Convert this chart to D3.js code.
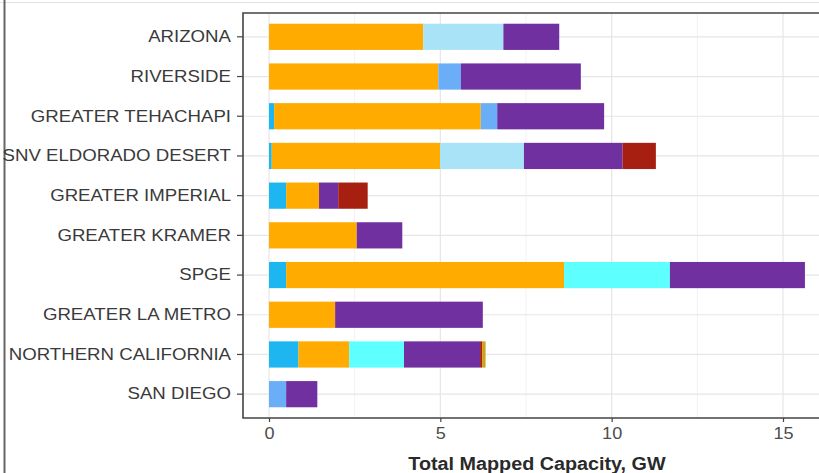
<!DOCTYPE html>
<html>
<head>
<meta charset="utf-8">
<script src="https://cdn.jsdelivr.net/npm/d3@7"></script>
<style>
html,body{margin:0;padding:0;background:#fff;}
svg{display:block;font-family:"Liberation Sans",Arial,sans-serif;}
</style>
</head>
<body>
<svg id="chart" width="819" height="473"></svg>
<script>
// Categories (top to bottom)
const categories = ["ARIZONA","RIVERSIDE","GREATER TEHACHAPI","SNV ELDORADO DESERT","GREATER IMPERIAL","GREATER KRAMER","SPGE","GREATER LA METRO","NORTHERN CALIFORNIA","SAN DIEGO"];
// Series in stacking order (left to right)
const seriesNames = ["Type A","Type B","Type C","Type D","Type E","Type F","Type G","Type H"];
const seriesColors = ["#1db6f0","#ffab00","#a8e3f8","#6aaef8","#5effff","#7030a0","#a61f10","#c9a41a"];
// Values (GW) per series, aligned with categories
const typeA = [0,    0,    0.15, 0.08, 0.50, 0,    0.50, 0,    0.86, 0   ];
const typeB = [4.50, 4.94, 6.03, 4.91, 0.96, 2.56, 8.11, 1.93, 1.48, 0   ];
const typeC = [2.34, 0,    0,    2.45, 0,    0,    0,    0,    0,    0   ];
const typeD = [0,    0.66, 0.48, 0,    0,    0,    0,    0,    0,    0.50];
const typeE = [0,    0,    0,    0,    0,    0,    3.09, 0,    1.60, 0   ];
const typeF = [1.63, 3.50, 3.12, 2.88, 0.56, 1.33, 3.94, 4.31, 2.22, 0.91];
const typeG = [0,    0,    0,    0.97, 0.86, 0,    0,    0,    0.06, 0   ];
const typeH = [0,    0,    0,    0,    0,    0,    0,    0,    0.10, 0   ];
const xTicks = [0, 5, 10, 15];
const xMinor = [2.5, 7.5, 12.5];
const xTitle = "Total Mapped Capacity, GW";

const seriesValues = [typeA,typeB,typeC,typeD,typeE,typeF,typeG,typeH];
const rows = categories.map((c,i)=>{
  const o = {cat:c};
  seriesNames.forEach((s,j)=>{ o[s] = seriesValues[j][i]; });
  return o;
});
const stack = d3.stack().keys(seriesNames)(rows);

const svg = d3.select("#chart");
const panel = {top:13, bottom:418, left:243};
const x = d3.scaleLinear().domain([0,15]).range([269,783]);
const xMaxDom = x.invert(832);
const y = d3.scaleBand().domain(categories).range([panel.top, panel.bottom]).paddingInner(0.34).paddingOuter(0.27);
const SX = 1.13; // horizontal stretch of the text in the reference

// frame decorations
svg.append("line").attr("x1",0).attr("x2",819).attr("y1",2.5).attr("y2",2.5).attr("stroke","#e2e2e2").attr("stroke-width",1);
svg.append("line").attr("x1",4.5).attr("x2",4.5).attr("y1",0).attr("y2",473).attr("stroke","#666").attr("stroke-width",2);

const g = svg.append("g");
// grid
g.selectAll("line.minor").data(xMinor).join("line")
  .attr("x1",d=>x(d)).attr("x2",d=>x(d)).attr("y1",panel.top).attr("y2",panel.bottom)
  .attr("stroke","#f2f2f2").attr("stroke-width",1);
g.selectAll("line.major").data(xTicks).join("line")
  .attr("x1",d=>x(d)).attr("x2",d=>x(d)).attr("y1",panel.top).attr("y2",panel.bottom)
  .attr("stroke","#e6e6e6").attr("stroke-width",1.2);
g.selectAll("line.hgrid").data(categories).join("line")
  .attr("x1",panel.left).attr("x2",x(xMaxDom)).attr("y1",d=>y(d)+y.bandwidth()/2).attr("y2",d=>y(d)+y.bandwidth()/2)
  .attr("stroke","#e6e6e6").attr("stroke-width",1.2);

// bars
g.selectAll("g.series").data(stack).join("g")
  .attr("fill",(d,i)=>seriesColors[i])
  .selectAll("rect").data(d=>d).join("rect")
  .attr("x",d=>x(d[0]))
  .attr("width",d=>Math.max(0,x(d[1])-x(d[0])))
  .attr("y",d=>y(d.data.cat))
  .attr("height",y.bandwidth());

// panel border (left, top, bottom)
svg.append("path")
  .attr("d",`M832,${panel.top}H${panel.left}V${panel.bottom}H832`)
  .attr("fill","none").attr("stroke","#444").attr("stroke-width",1.6);

// axes
const xAxis = d3.axisBottom(x).tickValues(xTicks).tickSize(4).tickPadding(6).tickFormat(d3.format("d"));
const gx = svg.append("g").attr("transform",`translate(0,${panel.bottom})`).call(xAxis);
gx.select(".domain").remove();
gx.selectAll(".tick line").attr("stroke","#444").attr("stroke-width",1.2);
gx.selectAll(".tick text").attr("fill","#4d4d4d").attr("font-size","16px")
  .attr("font-family","Liberation Sans, Arial, sans-serif")
  .attr("transform",`scale(${SX},1)`);

const yAxis = d3.axisLeft(y).tickSize(6).tickPadding(6);
const gy = svg.append("g").attr("transform",`translate(${panel.left},0)`).call(yAxis);
gy.select(".domain").remove();
gy.selectAll(".tick line").attr("stroke","#444").attr("stroke-width",1.2);
gy.selectAll(".tick text").attr("fill","#3a3a3a").attr("font-size","16.5px")
  .attr("font-family","Liberation Sans, Arial, sans-serif")
  .attr("x",-12/SX).attr("transform",`scale(${SX},1)`);

svg.append("text").attr("transform",`translate(537,470) scale(${SX},1)`).attr("text-anchor","middle")
  .attr("font-size","17.5px").attr("font-weight","bold").attr("fill","#2a2a2a").text(xTitle);
</script>
</body>
</html>
